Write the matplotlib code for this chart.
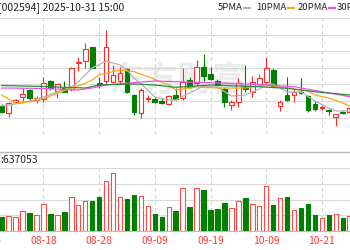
import numpy as np
import matplotlib.pyplot as plt
from matplotlib.lines import Line2D
from matplotlib.transforms import blended_transform_factory

plt.rcParams['font.family'] = ['Noto Sans CJK SC', 'DejaVu Sans']

# daily candles, 51 sessions
opens = [119.40, 118.73, 119.83, 120.33, 120.95, 120.00, 120.10, 121.90, 120.95, 121.20,
         121.10, 123.73, 123.90, 125.33, 121.70, 121.95, 121.83, 121.95, 123.10, 120.50,
         118.67, 120.15, 120.07, 119.90, 119.63, 120.50, 120.17, 122.00, 121.67, 123.33,
         122.57, 121.90, 121.07, 119.50, 119.83, 121.40, 120.80, 121.65, 121.83, 123.00,
         119.40, 120.50, 120.50, 120.85, 120.43, 119.57, 119.23, 118.95, 118.33, 118.83,
         118.80]
closes = [118.83, 119.75, 120.00, 120.57, 120.17, 120.15, 121.67, 121.17, 121.57, 120.83,
          123.17, 123.85, 125.07, 123.17, 121.50, 125.33, 122.50, 122.70, 120.83, 118.80,
          121.00, 120.25, 119.83, 119.73, 120.40, 120.07, 121.83, 121.33, 123.33, 122.40,
          122.10, 121.55, 119.83, 119.83, 121.70, 121.10, 121.80, 122.17, 123.17, 121.35,
          119.83, 120.00, 120.83, 120.70, 119.00, 119.07, 119.30, 118.87, 118.57, 118.70,
          119.20]
highs = [119.60, 119.85, 120.15, 121.17, 121.10, 120.40, 122.35, 122.00, 121.60, 121.90,
         123.30, 124.30, 125.73, 125.33, 122.33, 127.00, 123.55, 123.33, 123.20, 120.60,
         121.17, 120.50, 120.30, 120.25, 120.50, 121.17, 123.17, 122.30, 124.00, 124.57,
         123.33, 122.15, 121.33, 120.00, 122.20, 123.50, 122.40, 122.60, 124.27, 123.20,
         120.00, 122.27, 121.17, 122.17, 120.50, 119.90, 119.50, 119.07, 118.65, 118.95,
         119.40]
lows = [118.75, 118.33, 119.70, 119.95, 119.93, 119.73, 119.85, 121.00, 120.17, 120.80,
        120.95, 122.95, 123.17, 123.17, 121.17, 121.50, 121.67, 121.67, 120.75, 118.50,
        118.25, 119.83, 119.70, 119.60, 119.50, 120.00, 120.00, 121.20, 121.50, 121.90,
        122.00, 121.40, 119.27, 119.00, 119.33, 120.80, 120.30, 121.40, 121.65, 121.30,
        118.93, 119.90, 119.83, 120.65, 118.85, 118.95, 119.00, 118.50, 117.40, 118.65,
        118.60]
# volume, 10k lots
volumes = [59.4, 66.3, 59.4, 85.4, 78.0, 68.0, 117.0, 75.0, 70.6, 82.3,
           146.1, 114.0, 128.7, 130.0, 146.1, 216.7, 251.4, 146.1, 138.7, 154.7,
           150.4, 107.0, 72.4, 60.7, 102.7, 86.7, 185.1, 102.7, 185.1, 177.7,
           92.3, 96.6, 122.7, 101.8, 130.0, 141.7, 118.3, 107.0, 193.7, 111.4,
           141.7, 146.1, 91.0, 98.4, 118.3, 68.0, 56.3, 68.0, 72.4, 57.6,
           63.7]

# moving averages read at sampled sessions
ma5_idx = [0, 3, 6, 8, 10, 11, 13, 15, 17, 18, 19, 21, 22, 24, 25, 27, 29, 31, 33, 35,
           37, 38, 39, 41, 43, 45, 47, 48, 50]
ma5 = [119.4, 119.7, 120.3, 120.8, 121.3, 121.8, 123.2, 123.9, 123.5, 123.0, 122.2, 121.0,
       120.3, 120.0, 120.0, 120.7, 121.4, 121.3, 120.4, 120.5, 121.1, 121.5, 121.6, 120.8,
       120.8, 119.9, 119.2, 118.9, 118.9]
ma10_idx = [0, 2, 5, 7, 10, 12, 13, 14, 17, 19, 21, 24, 25, 28, 31, 35, 38, 41, 44, 45,
            47, 49, 50]
ma10 = [120.5, 119.67, 119.9, 120.4, 121.2, 121.67, 122.0, 122.5, 123.0, 122.83, 122.33,
        121.5, 121.0, 121.3, 121.2, 121.2, 121.5, 121.2, 120.9, 120.5, 120.2, 119.7, 119.4]
ma20_idx = [0, 6, 9, 11, 13, 15, 19, 22, 25, 30, 35, 38, 42, 46, 50]
ma20 = [121.2, 121.15, 121.05, 121.0, 121.2, 121.5, 121.73, 121.9, 121.83, 121.73, 121.6,
        121.5, 121.33, 120.83, 120.33]
ma30_idx = [0, 6, 12, 14, 19, 22, 25, 30, 37, 41, 45, 50]
ma30 = [121.45, 121.35, 121.2, 121.5, 121.6, 121.5, 121.27, 121.5, 121.33, 121.17, 120.83,
        120.5]

date_idx = [-2, 6, 14, 22, 30, 38, 46]
date_labels = ['08-06', '08-18', '08-28', '09-09', '09-19', '10-09', '10-21']

RED = '#ff2a2a'
GREEN = '#008000'
GRID = '#d9d9d9'

x = np.arange(len(opens))
o = np.array(opens)
c = np.array(closes)
up = c >= o
xlim = (-0.244, 50.04)

fig = plt.figure(figsize=(3.5, 2.5), dpi=100)

# price panel
ax = fig.add_axes([0, 0.4632, 1, 0.4648])
ax.set_xlim(*xlim)
ax.set_ylim(116.58, 128.2)
ax.set_yticks(np.linspace(116.58, 128.2, 8))
ax.set_xticks(date_idx[1:])
ax.grid(axis='y', color=GRID, lw=0.8)
ax.grid(axis='x', color='#cfcfcf', lw=0.8, ls=(0, (3, 3)))
ax.tick_params(length=0, labelbottom=False, labelleft=False)
for s in ax.spines.values():
    s.set_visible(False)
ax.set_axisbelow(True)

# faint watermark
ax.text(0.51, 0.47, '东方财富', transform=ax.transAxes, ha='center', va='center',
        fontsize=25, color='#ebebeb', fontweight='bold', zorder=0.5)

ax.vlines(x[up], np.array(lows)[up], np.array(highs)[up], color=RED, lw=0.8, zorder=2)
ax.vlines(x[~up], np.array(lows)[~up], np.array(highs)[~up], color=GREEN, lw=0.8, zorder=2)
body = np.maximum(np.abs(c - o), 0.02)
ax.bar(x[up], body[up], bottom=o[up], width=0.68, facecolor='white', edgecolor=RED, lw=0.8, zorder=3)
ax.bar(x[~up], body[~up], bottom=c[~up], width=0.68, facecolor=GREEN, edgecolor=GREEN, lw=0.8, zorder=3)

ax.plot(ma5_idx, ma5, color='#b4b4b4', lw=0.9, zorder=4)
ax.plot(ma10_idx, ma10, color='#f7a71c', lw=0.9, zorder=4)
ax.plot(ma20_idx, ma20, color='#f050f0', lw=0.9, zorder=4)
ax.plot(ma30_idx, ma30, color='#2a8a3a', lw=0.9, zorder=4)

# volume panel
axv = fig.add_axes([0, 0.076, 1, 0.252])
axv.set_xlim(*xlim)
axv.set_ylim(0, 273)
axv.set_yticks(np.linspace(0, 273, 5))
axv.set_xticks(date_idx[1:])
axv.grid(axis='y', color=GRID, lw=0.8)
axv.grid(axis='x', color='#cfcfcf', lw=0.8, ls=(0, (3, 3)))
axv.tick_params(length=0, labelbottom=False, labelleft=False)
for s in axv.spines.values():
    s.set_visible(False)
axv.spines['bottom'].set_visible(True)
axv.spines['bottom'].set_color('#bdbdbd')
axv.set_axisbelow(True)
v = np.array(volumes)
axv.bar(x[up], v[up], width=0.64, facecolor='white', edgecolor='#ff4a4a', lw=0.8, zorder=3)
axv.bar(x[~up], v[~up], width=0.64, facecolor=GREEN, edgecolor=GREEN, lw=0.8, zorder=3)

tr = blended_transform_factory(axv.transData, fig.transFigure)
for i, lab in zip(date_idx, date_labels):
    axv.text(i, 0.036, lab, transform=tr, ha='center', va='center', fontsize=7.5,
             color='#ff3b3b', clip_on=False)

# separator between panels
fig.add_artist(Line2D([0, 1], [0.3932, 0.3932], color='#b8b8b8', lw=1.0))

# header texts
fig.text(-0.006, 0.97, '[002594] 2025-10-31 15:00', fontsize=7.5, va='center', color='#222222')
fig.text(0.0, 0.36, ':637053', fontsize=7.5, va='center', color='#222222')

# legend: name (right-aligned) followed by a short coloured dash
leg = [('5PMA', '#b4b4b4', 244), ('10PMA', '#f7a71c', 288), ('20PMA', '#f050f0', 329)]
for name, col, dash in leg:
    fig.text((dash - 1.5) / 350, 0.97, name, fontsize=6.8, va='center', ha='right', color='#222222')
    fig.add_artist(Line2D([dash / 350, (dash + 6) / 350], [0.968, 0.968], color=col, lw=1.6))
fig.text(337 / 350, 0.97, '30PMA', fontsize=6.8, va='center', ha='left', color='#222222')

fig.savefig('out.png', dpi=100)
